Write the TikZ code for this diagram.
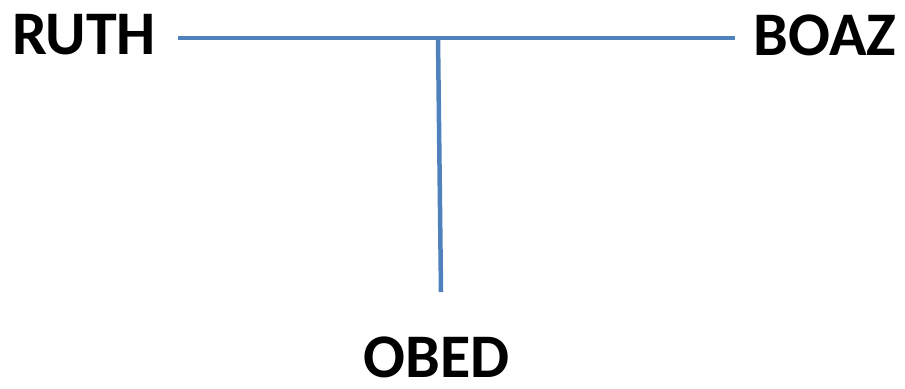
\documentclass[tikz,border=0pt]{standalone}
\usepackage{fontspec}
\setmainfont{Carlito}
\usepackage{tikz}
\usetikzlibrary{positioning}
\definecolor{LineBlue}{HTML}{4F81BD}

\tikzset{
  person/.style={inner sep=0pt, font=\fontsize{31}{31}\selectfont\bfseries},
  link/.style={draw=LineBlue, line width=2.25pt}
}

\begin{document}
\begin{tikzpicture}[x=0.5pt,y=-0.5pt]
\useasboundingbox (0,0) rectangle (905,388);
\node[person] (ruth) at (84,35) {RUTH};
\node[person] (boaz) at (825,35) {BOAZ};
\node[person] (obed) at (437,357) {OBED};
\coordinate (j) at (438,38);
\coordinate (stem) at (441,292);
% couple line and child line
\draw[link] ([xshift=11pt,yshift=-1.5pt]ruth.east) -- ([xshift=-9pt,yshift=-1.5pt]boaz.west);
\draw[link] (j) -- (stem);
\end{tikzpicture}
\end{document}
